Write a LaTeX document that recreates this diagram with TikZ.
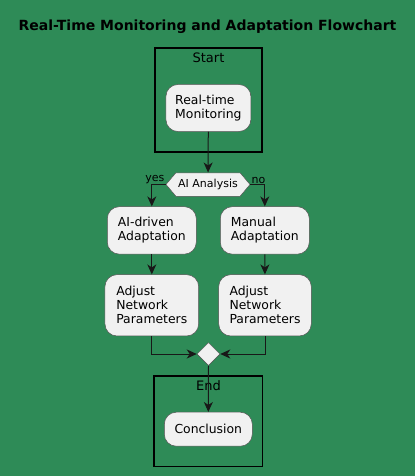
\documentclass[tikz,border=0pt]{standalone}
\usepackage{fontspec}
\setmainfont{DejaVu Sans}
\usetikzlibrary{shapes,shapes.geometric,shapes.symbols,arrows.meta,calc,positioning}
\definecolor{bgGreen}{HTML}{2E8B57}
\definecolor{boxFill}{HTML}{F1F1F1}
\definecolor{lineDark}{HTML}{181818}

\tikzset{
  act/.style={draw=lineDark!75, line width=0.5pt, fill=boxFill, rounded corners=12pt,
    align=left, inner sep=0pt, font=\fontsize{12.4}{14}\selectfont},
  flow/.style={draw=lineDark, line width=1pt, -{Stealth[length=10pt,width=9pt,inset=3pt]}},
  part/.style={draw=black, line width=1.5pt},
  small/.style={font=\fontsize{11}{13}\selectfont, inner sep=1pt},
}

\begin{document}
\begin{tikzpicture}[x=1pt,y=-1pt]
       \fill[bgGreen] (0,0) rectangle (415,476);
       \node[font=\bfseries\fontsize{14}{16}\selectfont] (title) at (207.5,27)
       {Real-Time Monitoring and Adaptation Flowchart};

       % start partition
       \coordinate (SA) at (155,48);
       \coordinate (SB) at (262,152);
       \draw[part] (SA) rectangle (SB);
       \node[font=\fontsize{13}{15}\selectfont] (startlbl) at (208.5,58) {Start};
       \node[act, minimum width=85pt, minimum height=47pt] (mon) at (208.4,108) {Real-time\\Monitoring};

       % decision
       \node[signal, signal to=west and east, signal pointer angle=100, draw=lineDark!75,
         line width=0.5pt, fill=boxFill, inner sep=0pt, minimum width=84pt, minimum height=23.5pt,
         font=\fontsize{11}{13}\selectfont] (ai) at (208,184.5) {AI Analysis};
       \node[small, anchor=south east] (yes) at (ai.west) {yes};
       \node[small, anchor=south west] (no) at (ai.east) {no};

       \node[act, minimum width=89pt, minimum height=47.5pt] (aidrv) at (151.8,230.4) {AI-driven\\Adaptation};
       \node[act, minimum width=89pt, minimum height=47.5pt] (manual) at (264.8,230.4) {Manual\\Adaptation};
       \node[act, minimum width=93.7pt, minimum height=61.3pt] (adjL) at (151.8,305.3) {Adjust\\Network\\Parameters};
       \node[act, minimum width=92.6pt, minimum height=61.3pt] (adjR) at (265,305.3) {Adjust\\Network\\Parameters};

       \node[diamond, fill=boxFill, draw=lineDark!75, line width=0.5pt, inner sep=0pt,
         minimum width=23pt, minimum height=23pt] (merge) at (208.5,354) {};

       % end partition
       \coordinate (EA) at (154,376);
       \coordinate (EB) at (262.5,466.5);
       \draw[part] (EA) rectangle (EB);
       \node[font=\fontsize{13}{15}\selectfont] (endlbl) at (208.5,386) {End};
       \node[act, minimum width=88pt, minimum height=34pt] (concl) at (208.3,429.2) {Conclusion};

       \draw[flow] (mon) -- (ai);
       \draw[flow] (ai.west) -| (aidrv.north);
       \draw[flow] (ai.east) -| (manual.north);
       \draw[flow] (aidrv) -- (adjL);
       \draw[flow] (manual) -- (adjR);
       \draw[flow] (adjL.south) |- (merge.west);
       \draw[flow] (adjR.south) |- (merge.east);
       \draw[flow] (merge.south) -- (concl.north);
\end{tikzpicture}
\end{document}
